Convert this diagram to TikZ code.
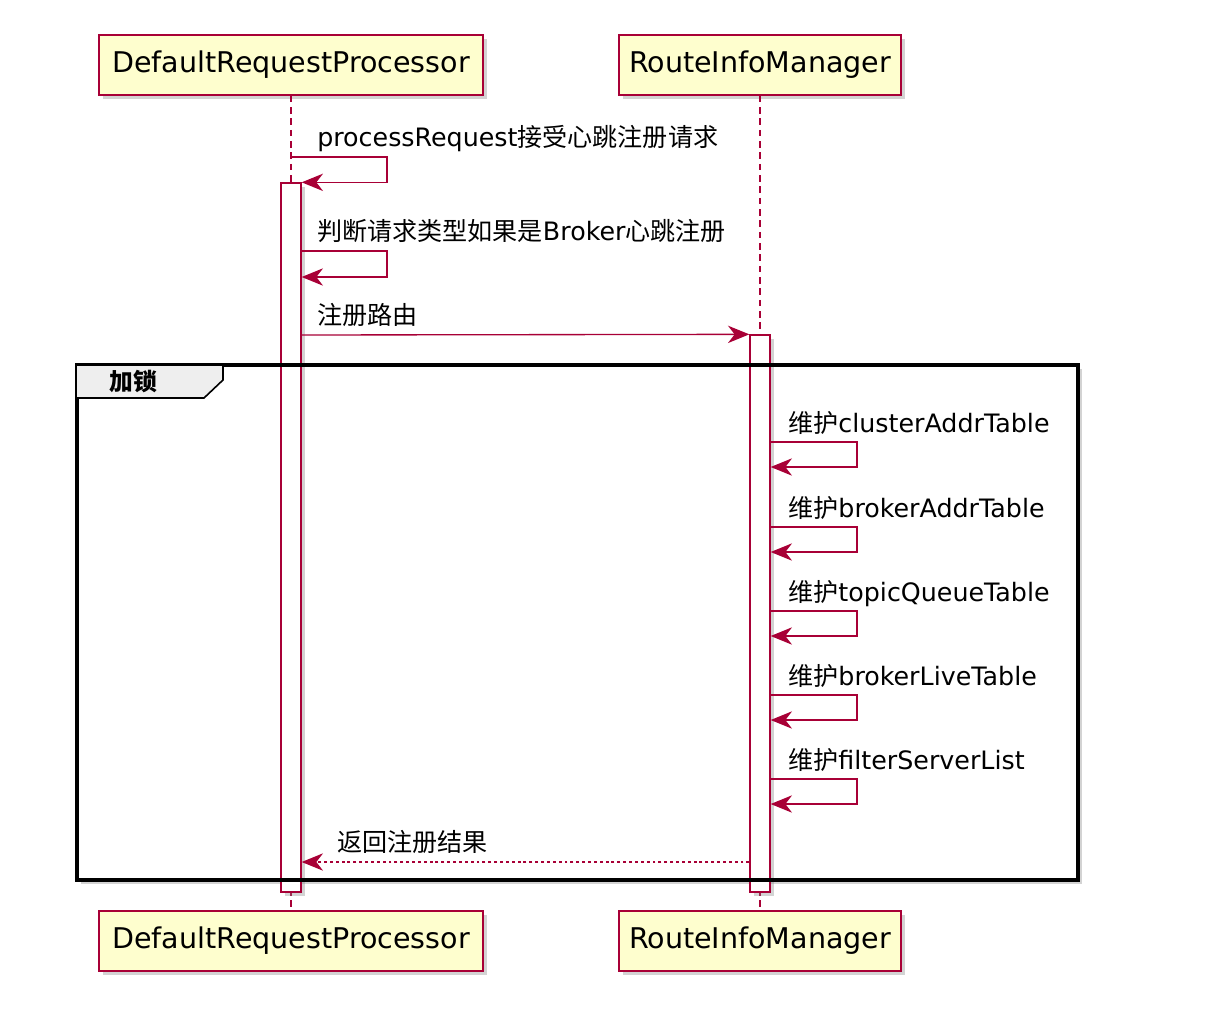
\documentclass[tikz,border=0pt]{standalone}
\usepackage{fontspec}
\setmainfont{DejaVu Sans}
\newfontfamily\cjk[Scale=0.99]{Noto Sans CJK SC}
\newcommand\zh[1]{{\cjk #1}}
\usetikzlibrary{arrows.meta,shadows}
\definecolor{umlred}{HTML}{A80036}
\definecolor{umlfill}{HTML}{FEFECE}
\definecolor{tabgray}{HTML}{EEEEEE}

\begin{document}
\begin{tikzpicture}[x=0.75pt, y=-0.75pt,
    participant/.style={draw=umlred, fill=umlfill, line width=1.2pt, minimum height=45pt,
        font=\fontsize{21.4}{25}\selectfont,
        drop shadow={shadow xshift=3pt, shadow yshift=-3pt, opacity=0.35}},
    actbar/.style={draw=umlred, fill=white, line width=1pt, minimum width=15pt, inner sep=0pt,
        drop shadow={shadow xshift=3pt, shadow yshift=-3pt, opacity=0.35}},
    lifeline/.style={umlred, line width=0.9pt, dash pattern=on 5pt off 3.5pt},
    msg/.style={umlred, line width=1pt, -{Stealth[length=16pt, width=13pt, inset=5pt]}},
    reply/.style={msg, dash pattern=on 2.2pt off 2.2pt},
    msglabel/.style={anchor=base west, inner sep=0pt, font=\fontsize{19}{22}\selectfont}]
    \useasboundingbox (0,0) rectangle (1220,1010);

    % frame background with its shadow
    \fill[white, drop shadow={shadow xshift=3pt, shadow yshift=-3pt, opacity=0.35}] (77,365) rectangle (1078,880);

    % participants, top and bottom
    \node[participant, minimum width=288pt] (drptop) at (291,65) {DefaultRequestProcessor};
    \node[participant, minimum width=211.5pt] (ritop) at (760,65) {RouteInfoManager};
    \node[participant, minimum width=288pt] (drpbot) at (291,941) {DefaultRequestProcessor};
    \node[participant, minimum width=211.5pt] (ribot) at (760,941) {RouteInfoManager};

    % lifelines
    \draw[lifeline] (drptop) -- (drpbot);
    \draw[lifeline] (ritop) -- (ribot);

    % activation bars
    \node[actbar, minimum height=531.75pt] (drpbar) at (291,537.5) {};
    \node[actbar, minimum height=417.75pt] (ribar) at (760,613.5) {};

    % heartbeat request
    \node[msglabel] (reqlbl) at (317,146) {processRequest\zh{接受心跳注册请求}};
    \draw[msg] (drptop.south |- 0,157) -- (387,157) |- (drpbar.north east);

    \node[msglabel] (typelbl) at (317,240) {\zh{判断请求类型如果是}Broker\zh{心跳注册}};
    \draw[msg] (drpbar.east |- 0,251) -- (387,251) |- (drpbar.east |- 0,277);

    % register route
    \node[msglabel] (routelbl) at (317,324) {\zh{注册路由}};
    \draw[msg] (drpbar.east |- 0,335) -- (ribar.north west);

    % tables kept under the lock
    \node[msglabel] (clusterlbl) at (788,432) {\zh{维护}clusterAddrTable};
    \draw[msg] (ribar.east |- 0,442) -- (857,442) |- (ribar.east |- 0,467);

    \node[msglabel] (brokerlbl) at (788,517) {\zh{维护}brokerAddrTable};
    \draw[msg] (ribar.east |- 0,527) -- (857,527) |- (ribar.east |- 0,552);

    \node[msglabel] (topiclbl) at (788,601) {\zh{维护}topicQueueTable};
    \draw[msg] (ribar.east |- 0,611) -- (857,611) |- (ribar.east |- 0,636);

    \node[msglabel] (livelbl) at (788,685) {\zh{维护}brokerLiveTable};
    \draw[msg] (ribar.east |- 0,695) -- (857,695) |- (ribar.east |- 0,720);

    \node[msglabel] (filterlbl) at (788,769) {\zh{维护}filterServerList};
    \draw[msg] (ribar.east |- 0,779) -- (857,779) |- (ribar.east |- 0,804);

    % result back to the processor
    \node[msglabel] (resultlbl) at (337,851) {\zh{返回注册结果}};
    \draw[reply] (ribar.west |- 0,862) -- (drpbar.east |- 0,862);

    % lock frame and its tab
    \draw[line width=2.8pt] (77,365) rectangle (1078,880);
    \draw[fill=tabgray, line width=1.2pt] (77,365) -- (223,365) -- (223,380) -- (204,398) -- (77,398);
    \node[inner sep=0pt, font=\cjk\bfseries\fontsize{18}{20}\selectfont] (locklbl) at (133,382) {加锁};

\end{tikzpicture}
\end{document}
